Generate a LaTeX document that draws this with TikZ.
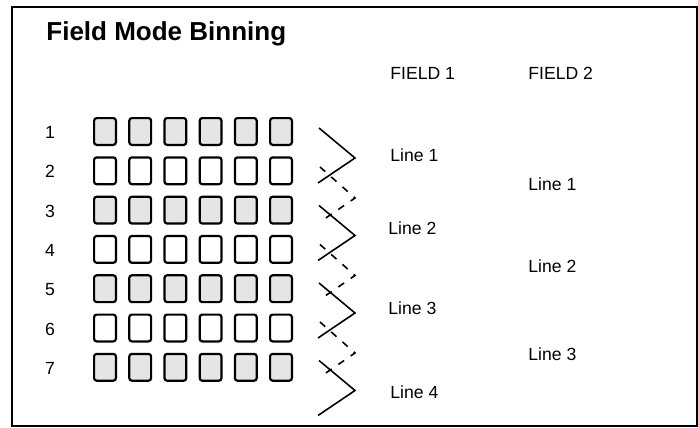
\documentclass[tikz,border=0pt]{standalone}
\usepackage{fontspec}
\setmainfont{Liberation Sans}

\def\colsep{35.2}
\def\rowsep{39.3}
\def\binsep{77.5}

\begin{document}
\begin{tikzpicture}[x=0.5pt, y=-0.5pt]
    \tikzstyle{pixel}=[draw=black, line width=1.1pt, rounded corners=1.3pt, minimum width=10.9pt, minimum height=13.4pt, inner sep=0pt]
    \tikzstyle{annot}=[font=\fontsize{8.8}{10}\selectfont, inner sep=0pt]
    \tikzstyle{chevron}=[line width=0.8pt]
    \tikzstyle{dashed chevron}=[chevron, dash pattern=on 3.5pt off 4pt]

    \useasboundingbox (0,0) rectangle (698,428);
    \draw[line width=1pt] (12,7) rectangle (697,426);

    % Title
    \node[anchor=base west, inner sep=0pt, font=\bfseries\fontsize{13}{15}\selectfont] (title) at (46,40) {Field Mode Binning};

    % Draw the sensor rows and their numbers
    \foreach \r in {1,...,7} {
        \node[annot] (N-\r) at (50, {132.5+(\r-1)*\rowsep}) {\r};
        \ifodd\r\relax \def\boxfill{black!10}\else \def\boxfill{white}\fi
        \foreach \c in {1,...,6}
            \node[pixel, fill=\boxfill] (P-\r-\c) at ({105+(\c-1)*\colsep}, {131.5+(\r-1)*\rowsep}) {};
    }

    % Field 1 binning: rows (1,2), (3,4), (5,6), (7)
    \foreach \k in {0,...,3} {
        \coordinate (S-\k-a) at (319, {128+\k*\binsep});
        \coordinate (S-\k-b) at (355, {158+\k*\binsep});
        \coordinate (S-\k-c) at (318, {183+\k*\binsep});
        \draw[chevron] (S-\k-a) -- (S-\k-b) -- (S-\k-c);
    }

    % Field 2 binning: rows (2,3), (4,5), (6,7)
    \foreach \k in {0,...,2} {
        \coordinate (D-\k-a) at (320, {167+\k*\binsep});
        \coordinate (D-\k-b) at (355, {198+\k*\binsep});
        \coordinate (D-\k-c) at (320, {222+\k*\binsep});
        \draw[dashed chevron] (D-\k-a) -- (D-\k-b) -- (D-\k-c);
    }

    % Annotate the fields
    \node[annot, anchor=west] (F-1) at (390,73) {FIELD 1};
    \node[annot, anchor=west] (F-2) at (528,73) {FIELD 2};

    \node[annot, anchor=west] (L1-1) at (390,155) {Line 1};
    \node[annot, anchor=west] (L1-2) at (388,228) {Line 2};
    \node[annot, anchor=west] (L1-3) at (388,308) {Line 3};
    \node[annot, anchor=west] (L1-4) at (390,392) {Line 4};

    \node[annot, anchor=west] (L2-1) at (528,184) {Line 1};
    \node[annot, anchor=west] (L2-2) at (528,266) {Line 2};
    \node[annot, anchor=west] (L2-3) at (528,354) {Line 3};
\end{tikzpicture}
\end{document}
